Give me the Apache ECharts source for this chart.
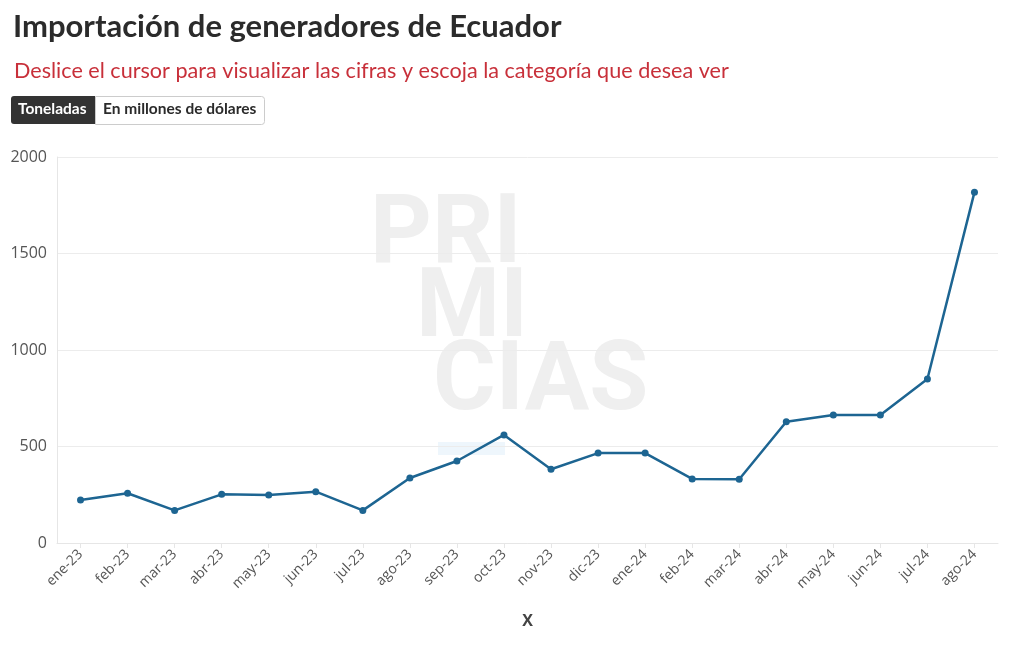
<!DOCTYPE html>
<html>
<head>
<meta charset="utf-8">
<script src="https://cdn.jsdelivr.net/npm/echarts@6/dist/echarts.min.js"></script>
<style>
html,body{margin:0;padding:0;background:#fff;}
#c{width:1020px;height:650px;}
</style>
</head>
<body>
<div id="c"></div>
<script>
const categories = ["ene-23","feb-23","mar-23","abr-23","may-23","jun-23","jul-23","ago-23","sep-23","oct-23","nov-23","dic-23","ene-24","feb-24","mar-24","abr-24","may-24","jun-24","jul-24","ago-24"];
const toneladas = [223,258,169,252,249,266,169,337,425,560,382,466,466,332,330,628,663,663,850,1818];
const yTicks = {min:0, max:2000, interval:500};
const titleText = "Importación de generadores de Ecuador";
const subtitleText = "Deslice el cursor para visualizar las cifras y escoja la categoría que desea ver";
const buttons = ["Toneladas","En millones de dólares"];

const chart = echarts.init(document.getElementById('c'), null, {renderer:'canvas'});
const wm = {fontFamily:'Roboto', fontWeight:'bold', fontSize:96, fill:'#efefef'};
chart.setOption({
  animation:false,
  backgroundColor:'#fff',
  title:[
    {text:titleText, left:8, top:6, textStyle:{fontFamily:'Lato', fontWeight:'bold', fontSize:31, color:'#2b2b2b'}},
    {text:subtitleText, left:9, top:55, textStyle:{fontFamily:'Lato', fontWeight:'normal', fontSize:21.6, color:'#c8303a'}}
  ],
  graphic:[
    {type:'rect', left:11, top:96, shape:{width:84, height:28, r:[3,0,0,3]}, style:{fill:'#333333'}},
    {type:'text', left:18, top:101, style:{text:buttons[0], fontFamily:'Lato', fontWeight:'bold', fontSize:15.5, fill:'#ffffff'}},
    {type:'rect', left:95, top:96, shape:{width:169, height:28, r:[0,3,3,0]}, style:{fill:'#ffffff', stroke:'#cccccc', lineWidth:1}},
    {type:'text', left:103, top:101, style:{text:buttons[1], fontFamily:'Lato', fontWeight:'bold', fontSize:15.5, fill:'#2b2b2b'}},
    {type:'text', left:370, top:190, z:-1, style:Object.assign({text:'PRI'}, wm)},
    {type:'text', left:416, top:264, z:-1, style:Object.assign({text:'MI'}, wm)},
    {type:'text', left:433, top:337, z:-1, style:Object.assign({text:'CIAS'}, wm)},
    {type:'rect', left:438, top:442, z:-1, shape:{width:67, height:13}, style:{fill:'#eef6fc'}}
  ],
  grid:{left:57, right:22, top:157, bottom:107, containLabel:false},
  xAxis:{
    type:'category', data:categories, boundaryGap:true,
    name:'X', nameLocation:'middle', nameGap:70,
    nameTextStyle:{fontFamily:'Open Sans', fontWeight:'bold', fontSize:16, color:'#444'},
    axisLine:{show:true, lineStyle:{color:'#e6e6e6'}},
    axisTick:{show:true, alignWithLabel:true, length:5, lineStyle:{color:'#e6e6e6'}},
    axisLabel:{rotate:45, fontFamily:'Open Sans', fontSize:14, color:'#555', margin:9}
  },
  yAxis:{
    type:'value', min:yTicks.min, max:yTicks.max, interval:yTicks.interval,
    axisLine:{show:true, lineStyle:{color:'#e6e6e6'}},
    axisTick:{show:false},
    splitLine:{lineStyle:{color:'#ececec'}},
    axisLabel:{fontFamily:'Open Sans', fontSize:16, color:'#555', margin:10, formatter:function(v){return String(v);}}
  },
  series:[{
    type:'line', data:toneladas, name:buttons[0],
    lineStyle:{color:'#1d6592', width:2.5},
    itemStyle:{color:'#1d6592'},
    symbol:'circle', symbolSize:7, z:5
  }]
});
</script>
</body>
</html>
